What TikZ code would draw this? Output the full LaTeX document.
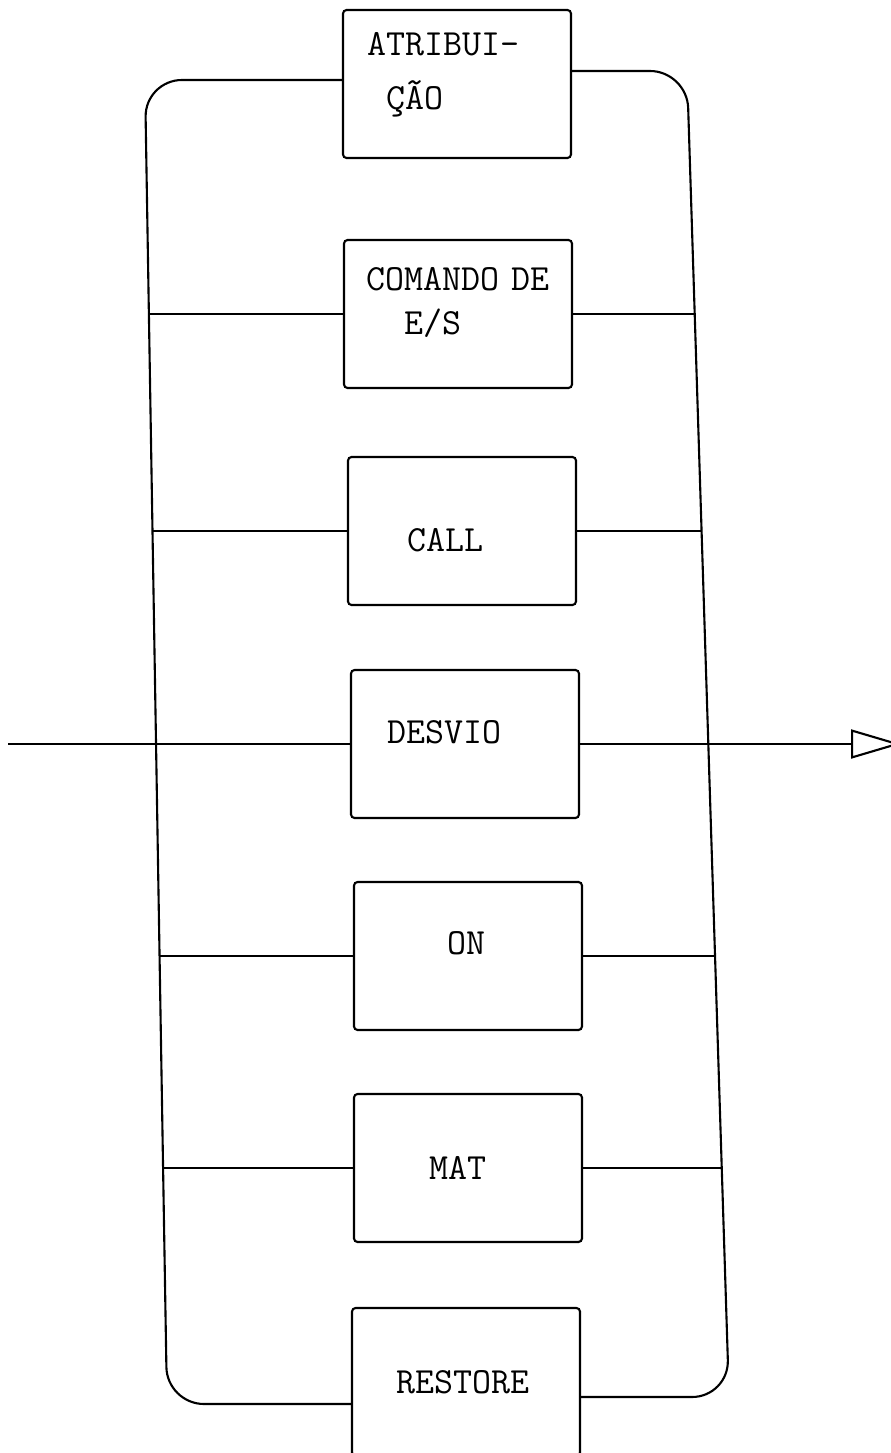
\documentclass[tikz,border=0pt]{standalone}
\usetikzlibrary{arrows.meta, calc}
\tikzset{
    font=\ttfamily,
    % Shapes
    stmt/.style={rectangle, draw, line width=1.2pt, rounded corners=2pt,
                 minimum height=2.96cm, align=left,
                 inner xsep=#1, text width={4.56cm-2*(#1)},
                 font=\fontsize{21}{31}\selectfont\ttfamily},
    % Lines
    rail/.style={line width=1.2pt, rounded corners=0.74cm},
    branch/.style={line width=1.2pt},
    exit/.style={branch, -{Triangle[open, length=1cm, width=0.58cm, line width=1.2pt]}}
}

\begin{document}
\begin{tikzpicture}[x=0.02cm, y=-0.02cm]
\useasboundingbox (0,0) rectangle (890,1453);

% statement boxes
\node[stmt=0.48cm, text depth=46pt] (atrib) at (457,84) {ATRIBUI-\\\hphantom{A}ÇÃO};
\node[stmt=0.44cm, font=\fontsize{21}{25}\selectfont\ttfamily, text depth=40pt] (comando) at (458,314) {COMANDO~DE\\\hphantom{AA}E/S};
\node[stmt=1.18cm, text height=23pt, text depth=0pt] (call) at (462,531) {CALL};
\node[stmt=0.72cm, text depth=13.6pt] (desvio) at (465,744) {DESVIO};
\node[stmt=1.86cm, text depth=14.5pt] (on) at (468,956) {ON};
\node[stmt=1.5cm] (mat) at (468,1168) {MAT};
\node[stmt=0.88cm] (restore) at (466,1382) {RESTORE};

% corners of the loop
\coordinate (tl) at (145,80);
\coordinate (bl) at (167,1404);
\coordinate (tr) at (687,71);
\coordinate (br) at (729,1397);

% entry and exit
\coordinate (entrada) at (8,744);
\coordinate (saida) at (901,744);

\draw[rail] (atrib.west |- tl) -- (tl) -- (bl) -- (restore.west |- bl);
\draw[rail] (atrib.east |- tr) -- (tr) -- (br) -- (restore.east |- br);

\foreach \b/\lx/\rx in {comando/149/696, call/152/702, on/160/716, mat/163/723} {
    \draw[branch] (\lx,0 |- \b.west) -- (\b.west);
    \draw[branch] (\b.east) -- (\rx,0 |- \b.east);
}

\draw[branch] (entrada) -- (desvio.west);
\draw[exit] (desvio.east) -- (saida);

\end{tikzpicture}
\end{document}
